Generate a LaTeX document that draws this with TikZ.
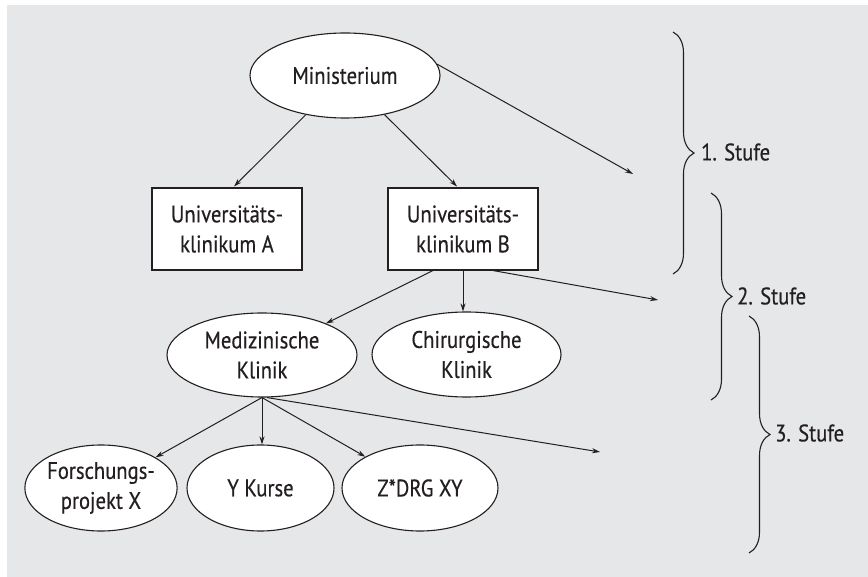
\documentclass[tikz,border=0pt]{standalone}
\usepackage{fontspec}
\setmainfont{PT Sans}[FakeStretch=0.86,FakeBold=0.4]
\usetikzlibrary{shapes.geometric,arrows.meta,decorations.pathreplacing,calc}
\definecolor{panel}{HTML}{E6E7E8}
\definecolor{ink}{HTML}{231F20}
\begin{document}
\begin{tikzpicture}[x=1pt,y=-1pt,
  every node/.style={font=\fontsize{24}{30}\selectfont, text=ink, align=center, inner sep=0pt},
  unit/.style={draw=ink, line width=1.1pt, fill=white, ellipse},
  clinic/.style={draw=ink, line width=1.1pt, fill=white, rectangle,
                 minimum width=150pt, minimum height=82pt},
  link/.style={draw=ink, line width=1pt, -{Stealth[length=8pt,width=5pt]}},
  level/.style={draw=ink, line width=1.1pt, decorate, decoration={brace, amplitude=21pt}},
  levellabel/.style={anchor=west},
]
% canvas and panel
\useasboundingbox (0,0) rectangle (868,577);
\fill[white] (0,0) rectangle (868,577);
\fill[panel] (7,5) rectangle (868,577);

% hierarchy
\node[unit, minimum width=190pt, minimum height=85pt] (min) at (345,75.5) {Ministerium};
\node[clinic] (ua) at (227,229) {Universitäts-\\klinikum A};
\node[clinic] (ub) at (463,229) {Universitäts-\\klinikum B};
\node[unit, minimum width=190pt, minimum height=84pt] (med) at (262,355) {Medizinische\\Klinik};
\node[unit, minimum width=189pt, minimum height=85pt] (chir) at (466.5,354.5) {Chirurgische\\Klinik};
\node[unit, minimum width=150pt, minimum height=86pt] (fx) at (101,488) {Forschungs-\\projekt X};
\node[unit, minimum width=147pt, minimum height=86pt] (yk) at (260.5,488) {Y Kurse};
\node[unit, minimum width=156pt, minimum height=86pt] (zd) at (420,488) {Z*DRG XY};

% open ends of the "further units" arrows
\coordinate (minmore) at (633,174);
\coordinate (ubmore) at (658,300);
\coordinate (medmore) at (600,452);

% connectors
\draw[link] (min) -- ($(ua.north)+(7,-1)$);
\draw[link] (min) -- ($(ub.north)+(-6,-1)$);
\draw[link] (min.7) -- (minmore);

\draw[link] ($(ub.south)+(-30,0)$) -- (med);
\draw[link] (ub.south) -- (ub.south |- chir.north);
\draw[link] ($(ub.south)+(30,0)$) -- (ubmore);

\draw[link] (med.south) -- (fx);
\draw[link] (med.south) -- (med.south |- yk.north);
\draw[link] (med.south) -- (zd);
\draw[link] ($(med.south)+(5,0)$) -- (medmore);

% level braces
\draw[level] (673,32) -- (673,274);
\node[levellabel] (s1) at (701,152) {1. Stufe};
\draw[level] (711,193) -- (711,400);
\node[levellabel] (s2) at (737,296) {2. Stufe};
\draw[level] (749,316) -- (749,553);
\node[levellabel] (s3) at (775,433) {3. Stufe};
\end{tikzpicture}
\end{document}
